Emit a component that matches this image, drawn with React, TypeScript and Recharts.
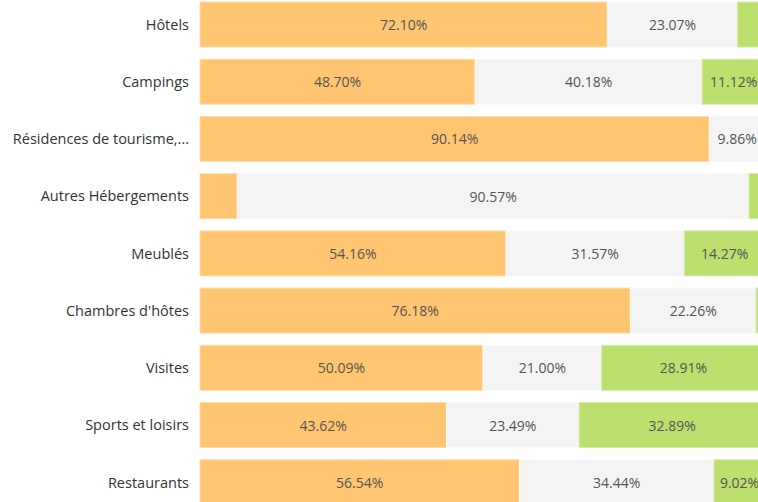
import { BarChart, Bar, XAxis, YAxis, LabelList } from 'recharts';

const categories = [
  'Hôtels',
  'Campings',
  'Résidences de tourisme,...',
  'Autres Hébergements',
  'Meublés',
  "Chambres d'hôtes",
  'Visites',
  'Sports et loisirs',
  'Restaurants',
];
const orangeValues = [72.1, 48.7, 90.14, 6.6, 54.16, 76.18, 50.09, 43.62, 56.54];
const grayValues = [23.07, 40.18, 9.86, 90.57, 31.57, 22.26, 21.0, 23.49, 34.44];
const greenValues = [4.83, 11.12, 0, 2.83, 14.27, 1.56, 28.91, 32.89, 9.02];

const data = categories.map((name, i) => ({
  name,
  a: orangeValues[i],
  b: grayValues[i],
  c: greenValues[i],
}));

const font = '"Open Sans", "Noto Sans", sans-serif';

const renderLabel = (props: any) => {
  const { x, y, width, height, value } = props;
  if (value == null || value < 9) return null;
  return (
    <text
      x={x + width / 2}
      y={y + height / 2}
      textAnchor="middle"
      dominantBaseline="central"
      fontSize={14}
      fontFamily={font}
      fill="#555"
    >
      {`${value.toFixed(2)}%`}
    </text>
  );
};

export default function App() {
  return (
    <div style={{ position: 'fixed', left: 0, top: 0, width: 758, height: 502, overflow: 'hidden', background: '#fff' }}>
      <div style={{ position: 'absolute', left: 0, top: -4 }}>
        <BarChart
          width={766}
          height={515}
          data={data}
          layout="vertical"
          margin={{ top: 0, right: 1, left: 0, bottom: 0 }}
          barCategoryGap={6}
        >
          <XAxis type="number" domain={[0, 100]} hide />
          <YAxis
            type="category"
            dataKey="name"
            width={200}
            axisLine={false}
            tickLine={false}
            tickMargin={5}
            interval={0}
            tick={{ fontSize: 14.5, fill: '#333', fontFamily: font }}
          />
          <Bar dataKey="a" stackId="s" fill="#FFC570" stroke="#FFDDA8" strokeWidth={1} isAnimationActive={false}>
            <LabelList dataKey="a" content={renderLabel} />
          </Bar>
          <Bar dataKey="b" stackId="s" fill="#F4F4F4" stroke="#FAFAFA" strokeWidth={1} isAnimationActive={false}>
            <LabelList dataKey="b" content={renderLabel} />
          </Bar>
          <Bar dataKey="c" stackId="s" fill="#BBE06D" stroke="#D4EBA6" strokeWidth={1} isAnimationActive={false}>
            <LabelList dataKey="c" content={renderLabel} />
          </Bar>
        </BarChart>
      </div>
    </div>
  );
}
